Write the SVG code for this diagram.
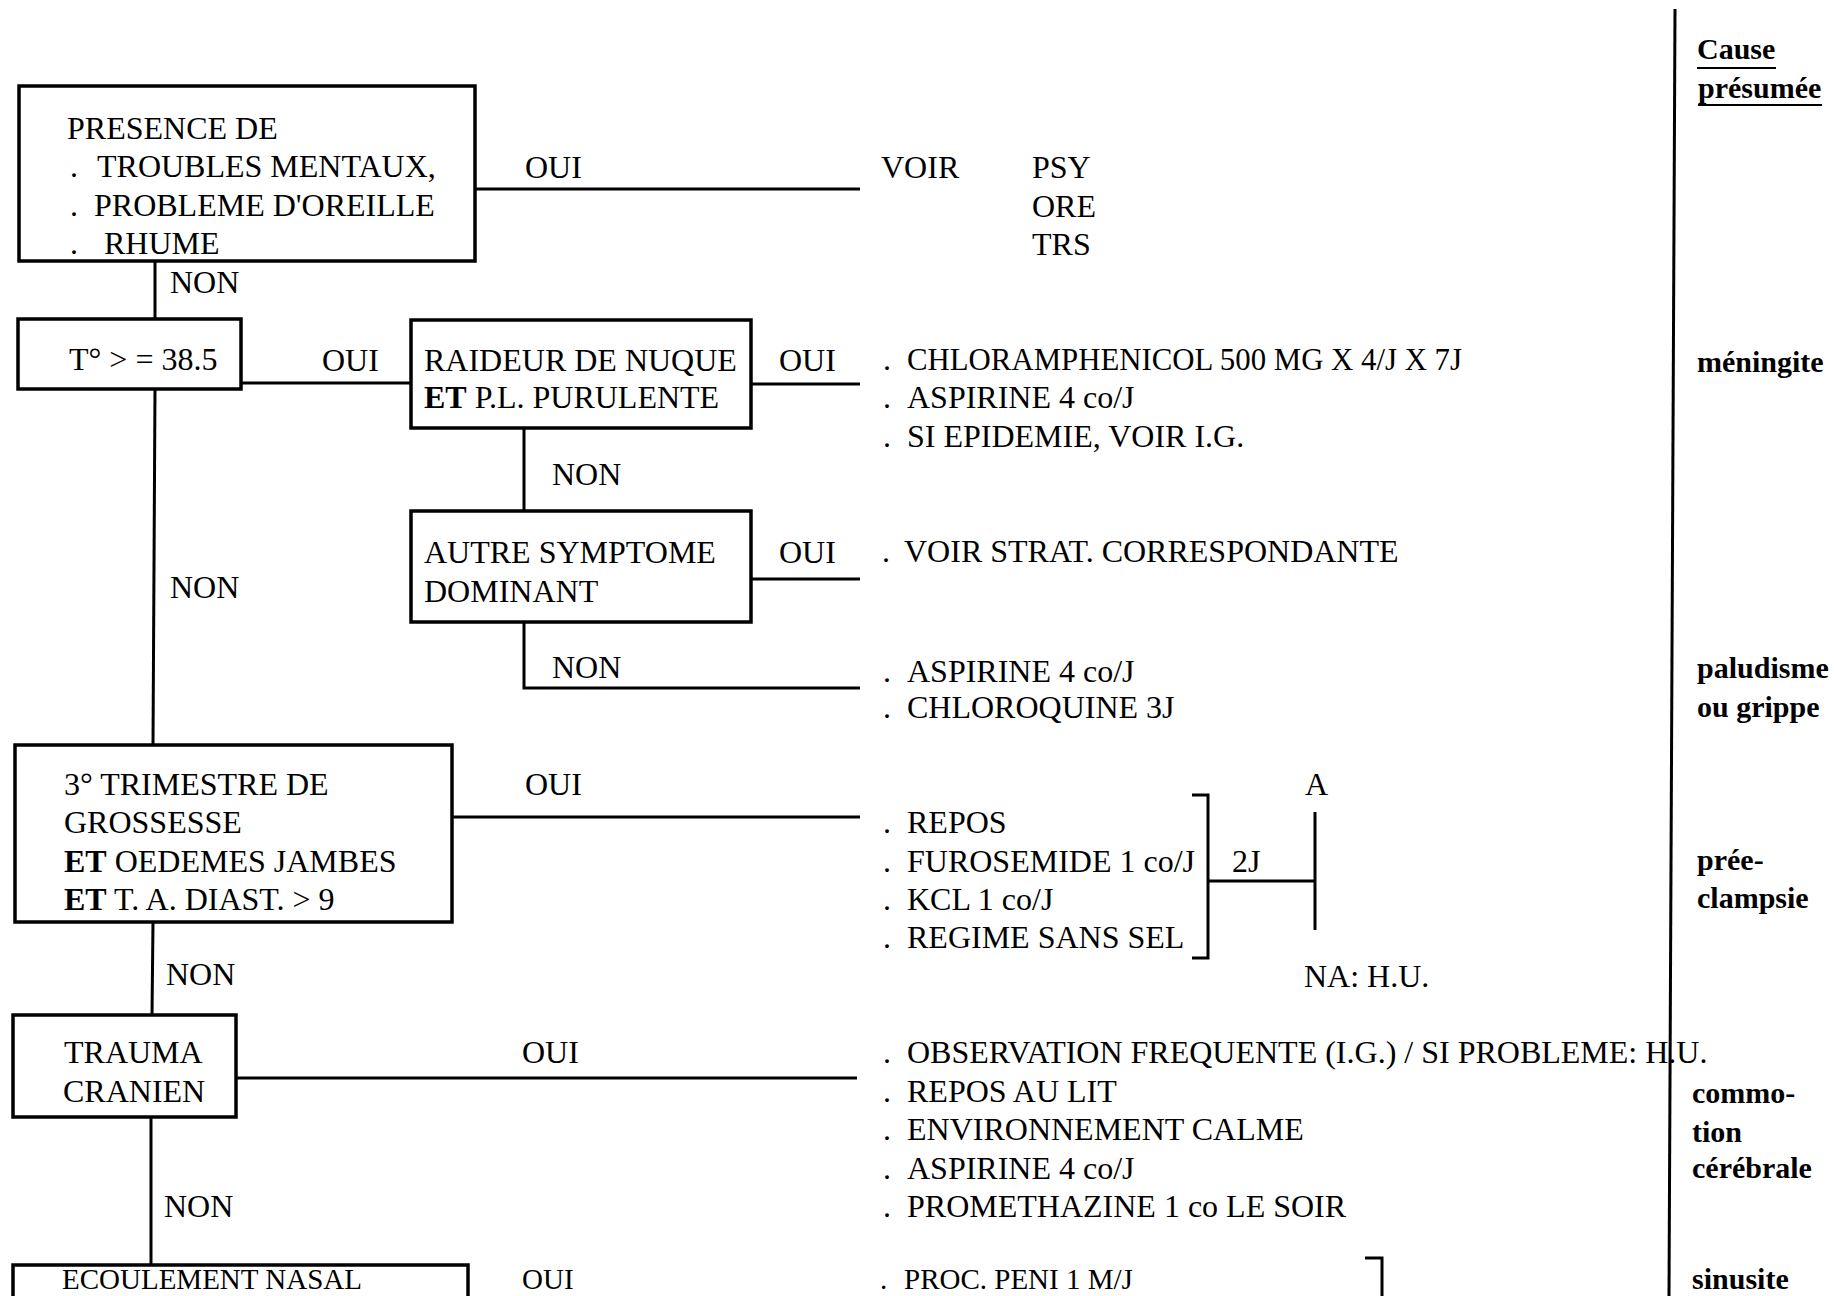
<svg xmlns="http://www.w3.org/2000/svg" width="1834" height="1296" viewBox="0 0 1834 1296">
<style>
text{font-family:"Liberation Serif","Times New Roman",serif;font-size:32px;fill:#000}
.b{font-weight:bold}
.c{font-weight:bold;font-size:30px}
.s{font-size:29px}
.box{fill:#fff;stroke:#000;stroke-width:3.5}
.ln{fill:none;stroke:#000;stroke-width:3}
</style>
<rect width="1834" height="1296" fill="#fff"/>
<g id="connectors">
<line class="ln" x1="475" y1="189" x2="860" y2="189"/>
<line class="ln" x1="155" y1="261" x2="155" y2="319"/>
<line class="ln" x1="241" y1="383" x2="411" y2="383"/>
<line class="ln" x1="751" y1="384" x2="860" y2="384"/>
<line class="ln" x1="524" y1="428" x2="524" y2="511"/>
<line class="ln" x1="751" y1="579" x2="860" y2="579"/>
<polyline class="ln" points="524,622 524,688 860,688"/>
<line class="ln" x1="155" y1="389" x2="153" y2="745"/>
<line class="ln" x1="452" y1="817" x2="860" y2="817"/>
<line class="ln" x1="153" y1="922" x2="152" y2="1015"/>
<line class="ln" x1="236" y1="1078" x2="857" y2="1078"/>
<line class="ln" x1="151" y1="1117" x2="151" y2="1265"/>
<polyline class="ln" points="1192,795 1208,795 1208,958 1192,958"/>
<line class="ln" x1="1208" y1="881" x2="1315" y2="881"/>
<line class="ln" x1="1315" y1="812" x2="1315" y2="930"/>
<polyline class="ln" points="1365,1258 1382,1258 1382,1300"/>
<line class="ln" x1="1675" y1="9" x2="1669" y2="1296" stroke-width="3.5"/>
</g>
<g id="n-presence">
<rect class="box" x="19" y="86" width="456" height="175"/>
<text x="67" y="139">PRESENCE DE</text>
<text x="70" y="177">.<tspan x="97">TROUBLES MENTAUX,</tspan></text>
<text x="70" y="216">.<tspan x="94">PROBLEME D'OREILLE</tspan></text>
<text x="70" y="254">.<tspan x="104">RHUME</tspan></text>
</g>
<g id="n-voir">
<text x="881" y="178">VOIR</text>
<text x="1032" y="178">PSY</text>
<text x="1032" y="217">ORE</text>
<text x="1032" y="255">TRS</text>
</g>
<g id="n-temp">
<rect class="box" x="18" y="319" width="223" height="70"/>
<text x="69" y="370">T° &gt; = 38.5</text>
</g>
<g id="n-raideur">
<rect class="box" x="411" y="320" width="340" height="108"/>
<text x="424" y="371">RAIDEUR DE NUQUE</text>
<text x="424" y="408"><tspan class="b">ET</tspan> P.L. PURULENTE</text>
</g>
<g id="n-meningite-tt">
<text x="883" y="370">.<tspan x="907" textLength="555" lengthAdjust="spacingAndGlyphs">CHLORAMPHENICOL 500 MG X 4/J X 7J</tspan></text>
<text x="883" y="408">.<tspan x="907">ASPIRINE 4 co/J</tspan></text>
<text x="883" y="447">.<tspan x="907">SI EPIDEMIE, VOIR I.G.</tspan></text>
</g>
<g id="n-autre">
<rect class="box" x="411" y="511" width="340" height="111"/>
<text x="424" y="563">AUTRE SYMPTOME</text>
<text x="424" y="602">DOMINANT</text>
</g>
<g id="n-strat">
<text x="882" y="562">.<tspan x="904">VOIR STRAT. CORRESPONDANTE</tspan></text>
</g>
<g id="n-palu-tt">
<text x="883" y="682">.<tspan x="907">ASPIRINE 4 co/J</tspan></text>
<text x="883" y="718">.<tspan x="907">CHLOROQUINE 3J</tspan></text>
</g>
<g id="n-grossesse">
<rect class="box" x="15" y="745" width="437" height="177"/>
<text x="64" y="795">3° TRIMESTRE DE</text>
<text x="64" y="833">GROSSESSE</text>
<text x="64" y="872"><tspan class="b">ET</tspan> OEDEMES JAMBES</text>
<text x="64" y="910"><tspan class="b">ET</tspan> T. A. DIAST. &gt; 9</text>
</g>
<g id="n-eclampsie-tt">
<text x="883" y="833">.<tspan x="907">REPOS</tspan></text>
<text x="883" y="872">.<tspan x="907">FUROSEMIDE 1 co/J</tspan></text>
<text x="883" y="910">.<tspan x="907">KCL 1 co/J</tspan></text>
<text x="883" y="948">.<tspan x="907">REGIME SANS SEL</tspan></text>
<text x="1232" y="872">2J</text>
<text x="1305" y="795">A</text>
<text x="1304" y="987">NA: H.U.</text>
</g>
<g id="n-trauma">
<rect class="box" x="13" y="1015" width="223" height="102"/>
<text x="64" y="1063">TRAUMA</text>
<text x="63" y="1102">CRANIEN</text>
</g>
<g id="n-trauma-tt">
<text x="883" y="1063">.<tspan x="907">OBSERVATION FREQUENTE (I.G.) / SI PROBLEME: H.U.</tspan></text>
<text x="883" y="1102">.<tspan x="907">REPOS AU LIT</tspan></text>
<text x="883" y="1140">.<tspan x="907">ENVIRONNEMENT CALME</tspan></text>
<text x="883" y="1179">.<tspan x="907">ASPIRINE 4 co/J</tspan></text>
<text x="883" y="1217">.<tspan x="907">PROMETHAZINE 1 co LE SOIR</tspan></text>
</g>
<g id="n-ecoulement">
<rect class="box" x="13" y="1265" width="455" height="60"/>
<text class="s" x="62" y="1289">ECOULEMENT NASAL</text>
</g>
<g id="n-sinus-tt">
<text class="s" x="880" y="1289">.<tspan x="904">PROC. PENI 1 M/J</tspan></text>
</g>
<g id="labels">
<text x="525" y="178">OUI</text>
<text x="170" y="293">NON</text>
<text x="322" y="371">OUI</text>
<text x="779" y="371">OUI</text>
<text x="552" y="485">NON</text>
<text x="779" y="563">OUI</text>
<text x="170" y="598">NON</text>
<text x="552" y="678">NON</text>
<text x="525" y="795">OUI</text>
<text x="166" y="985">NON</text>
<text x="522" y="1063">OUI</text>
<text x="164" y="1217">NON</text>
<text class="s" x="522" y="1289">OUI</text>
</g>
<g id="cause-column">
<text class="c" x="1697" y="59">Cause</text>
<line x1="1697" y1="68" x2="1776" y2="68" stroke="#000" stroke-width="2"/>
<text class="c" x="1698" y="98">présumée</text>
<line x1="1698" y1="105" x2="1822" y2="105" stroke="#000" stroke-width="2"/>
<text class="c" x="1697" y="372">méningite</text>
<text class="c" x="1697" y="678">paludisme</text>
<text class="c" x="1697" y="717">ou grippe</text>
<text class="c" x="1697" y="870">prée-</text>
<text class="c" x="1697" y="908">clampsie</text>
<text class="c" x="1692" y="1103">commo-</text>
<text class="c" x="1692" y="1142">tion</text>
<text class="c" x="1692" y="1178">cérébrale</text>
<text class="c" x="1692" y="1289">sinusite</text>
</g>
</svg>
